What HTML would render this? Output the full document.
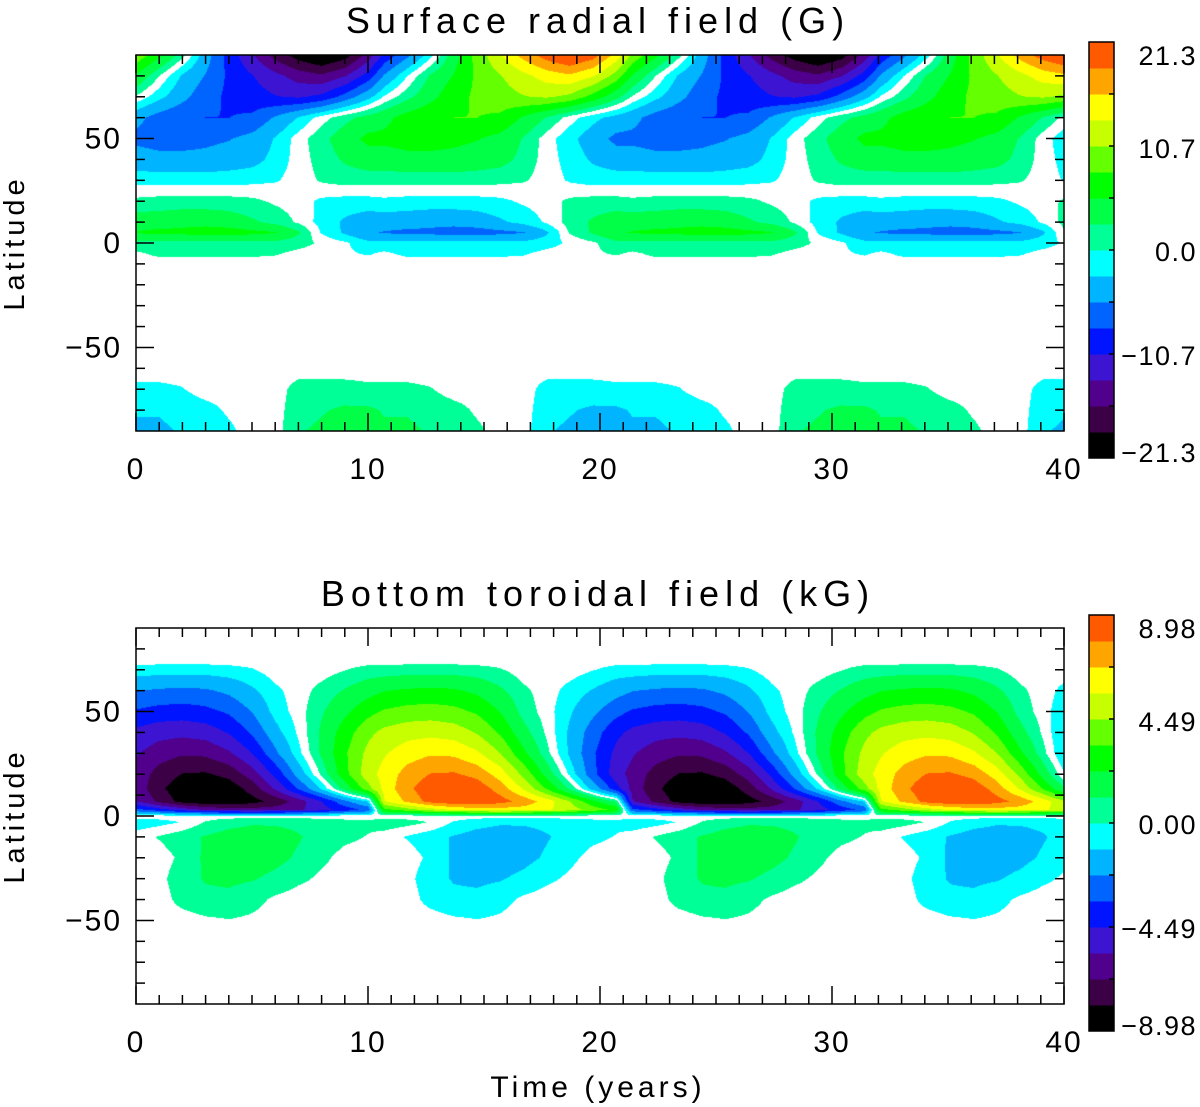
<!DOCTYPE html>
<html><head><meta charset="utf-8"><style>
body{margin:0;background:#fff;width:1200px;height:1107px;position:relative;overflow:hidden;font-family:"Liberation Sans",sans-serif}
canvas{position:absolute}
svg{position:absolute;left:0;top:0}
text{font-family:"Liberation Sans",sans-serif;fill:#000}
</style></head><body>
<canvas id="c1" width="928" height="376" style="left:136px;top:55px"></canvas>
<canvas id="c2" width="928" height="376" style="left:136px;top:628px"></canvas>
<svg id="ov" width="1200" height="1107"></svg>
<script>
// ---- data ----
const palette = ['#000000','#3c0046','#50008c','#3c14d2','#0014ff','#0064ff','#00b4ff','#00ffff','#00ff96','#00ff46','#00ff00','#64ff00','#c8ff00','#ffff00','#ffa500','#ff5a00'];
const cycleTimes = [0,1,2,3,4,5,6,7,8,9,10];
const topHalfPeriod = 10.7;
const topMax = 21.3;
const topLats = [90,80,70,60,50,40,30,25,20,10,5,0,-5,-10,-60,-70,-80,-90];
const topValues = [
 [10,6,1.5,-4,-9,-13,-17,-20,-22,-20,-15],
 [5,0.8,-3,-5.5,-8.5,-10.5,-12.5,-14.5,-15.5,-13.5,-9.5],
 [0.6,-2,-4.5,-7,-8.5,-9.5,-10.5,-11,-10,-7,-3.5],
 [-4.5,-6.5,-7.5,-8,-8,-7.5,-5,-2.5,0,2,3.5],
 [-6,-6.5,-6.5,-6,-5.5,-4.5,-2.5,0,2,4,6],
 [-4,-4.5,-4.5,-4.5,-4,-3.5,-2,0,1.5,3,4],
 [-1.5,-1.5,-1.5,-1.5,-1.5,-1.3,-1,0,1,1.5,1.5],
 [0,0,0,0,0,0,0,0,0,0,0],
 [1.2,1.5,1.5,1.5,1.5,1.2,0.5,0,-1.2,-1.5,-1.5],
 [4,4,4.5,4.5,4,3,2,0.5,-1.5,-3,-4],
 [5.5,6,6,6.5,6.5,6,5.5,3,-1,-3,-5],
 [2,2,2,2,2,2,2,1.5,0.5,-0.5,-2],
 [0.5,1.2,1.2,1.2,1.2,1.2,1,0.3,0,-0.5,-1],
 [0,0,0,0,0,0,0,0,0,0,0],
 [0,0,0,0,0,0,0,0,0,0,0],
 [-1.2,-1.2,-0.9,0,0,0,0,1.5,1.5,1.5,1.2],
 [-2.5,-2.5,-2,-1.5,-0.5,0,0,2,2.5,3,3],
 [-3,-3,-2.5,-2,-1.2,0,0,2.5,3,3.5,3.5]
];
const botHalfPeriod = 10.7;
const botMax = 8.98;
const botLats = [90,75,70,60,50,40,30,20,13,7,3,0,-3,-10,-20,-30,-40,-50,-60,-90];
const botValues = [
 [0,0,0,0,0,0,0,0,0,0,0],
 [0,0,0,0,0,0,0,0,0,0,0],
 [-0.6,-0.7,-0.7,-0.7,-0.6,-0.4,0,0,0,0.3,0.6],
 [-2.2,-2.4,-2.5,-2.4,-2.0,-1.3,-0.5,0,0.6,1.2,1.8],
 [-3.5,-3.8,-3.9,-3.7,-3.2,-2.2,-0.8,0,1.0,2.0,3.0],
 [-4.8,-5.2,-5.3,-5.1,-4.4,-3.2,-1.5,-0.2,1.3,2.8,4.2],
 [-5.5,-6.2,-6.6,-6.5,-5.8,-4.5,-2.5,-0.6,1.3,3.2,4.8],
 [-6,-7.2,-7.9,-8.0,-7.5,-6.2,-4.2,-1.8,0.5,3.0,5.2],
 [-6,-7.6,-8.6,-9.0,-8.6,-7.4,-5.5,-3.3,-1.0,1.5,4],
 [-5.5,-7,-8.3,-8.8,-8.8,-8.3,-7.5,-6.2,-4.5,-2.5,-1],
 [-3,-4,-5,-5.8,-6.2,-6.3,-6.2,-5.8,-5,-4,-3],
 [0,0,0,0,0,0,0,0,0,0,0],
 [-0.8,-0.6,-0.3,0.4,0.8,1.0,1.0,0.9,0.8,0.6,0.5],
 [0,0.4,0.8,1.2,1.5,1.6,1.5,1.2,0.8,0.5,0.3],
 [0,0,0.5,1.3,1.6,1.6,1.4,1.0,0.5,0.1,0],
 [0,0.1,0.8,1.2,1.3,1.2,0.9,0.5,0.2,0,0],
 [0,0,0.6,0.9,0.9,0.6,0.2,0,0,0,0],
 [0,0,0,0.2,0.3,0.2,0,0,0,0,0],
 [0,0,0,0,0,0,0,0,0,0,0],
 [0,0,0,0,0,0,0,0,0,0,0]
];
const xTicks = [0,10,20,30,40];
const yTicks = [-50,0,50];
const topBarLabels = ['21.3','10.7','0.0','\u221210.7','\u221221.3'];
const botBarLabels = ['8.98','4.49','0.00','\u22124.49','\u22128.98'];

// ---- rendering ----
function hexRGB(h){return [parseInt(h.substr(1,2),16),parseInt(h.substr(3,2),16),parseInt(h.substr(5,2),16)];}
const palRGB = palette.map(hexRGB);
function sample(lats, vals, P, t, lat){
  const k = Math.floor(t/P); let tau = t - k*P; const s = (k%2)?-1:1;
  let i = 0; while(i < lats.length-2 && lat < lats[i+1]) i++;
  const fl = (lats[i]-lat)/(lats[i]-lats[i+1]);
  function col(r){
    const row = vals[r]; const n = cycleTimes.length;
    if(tau >= cycleTimes[n-1]){ const f=(tau-cycleTimes[n-1])/(P-cycleTimes[n-1]); return row[n-1]*(1-f) + (-row[0])*f; }
    let j=0; while(j<n-2 && tau>cycleTimes[j+1]) j++;
    const f=(tau-cycleTimes[j])/(cycleTimes[j+1]-cycleTimes[j]); return row[j]*(1-f)+row[j+1]*f;
  }
  return s*(col(i)*(1-fl)+col(i+1)*fl);
}
function draw(id, lats, vals, P, vmax){
  const cv=document.getElementById(id), ctx=cv.getContext('2d');
  const W=cv.width,H=cv.height, img=ctx.createImageData(W,H), step=2*vmax/16;
  for(let y=0;y<H;y++){ const lat=90-180*(y+0.5)/H;
    for(let x=0;x<W;x++){ const t=40*(x+0.5)/W; const v=sample(lats,vals,P,t,lat);
      let c=[255,255,255];
      if(Math.abs(v)>=0.3*step){ let k=Math.floor((v+vmax)/step); k=Math.max(0,Math.min(15,k)); c=palRGB[k]; }
      const o=(y*W+x)*4; img.data[o]=c[0];img.data[o+1]=c[1];img.data[o+2]=c[2];img.data[o+3]=255; } }
  ctx.putImageData(img,0,0);
}
draw('c1',topLats,topValues,topHalfPeriod,topMax);
draw('c2',botLats,botValues,botHalfPeriod,botMax);

const NS='http://www.w3.org/2000/svg', ov=document.getElementById('ov');
function el(tag,attrs,parent){const e=document.createElementNS(NS,tag);for(const k in attrs)e.setAttribute(k,attrs[k]);(parent||ov).appendChild(e);return e;}
function panel(top, title, barLabels, name, showXTitle){
  const L=136,R=1064,B=top+376;
  const g=el('g',{});
  
  
  el('rect',{x:L,y:top,width:R-L,height:376,fill:'none',stroke:'#000','stroke-width':1.5},g);
  const xs=t=>L+(R-L)*t/40, ys=lat=>top+376*(90-lat)/180;
  for(let t=0;t<=40;t++){ const len=(t%10===0)?18:9;
    el('line',{x1:xs(t),x2:xs(t),y1:B,y2:B-len,stroke:'#000','stroke-width':1.5},g);
    el('line',{x1:xs(t),x2:xs(t),y1:top,y2:top+len,stroke:'#000','stroke-width':1.5},g); }
  for(let lat=-80;lat<=80;lat+=10){ const len=(lat%50===0)?18:9;
    el('line',{x1:L,x2:L+len,y1:ys(lat),y2:ys(lat),stroke:'#000','stroke-width':1.5},g);
    el('line',{x1:R,x2:R-len,y1:ys(lat),y2:ys(lat),stroke:'#000','stroke-width':1.5},g); }
  xTicks.forEach(t=>{ const tx=el('text',{x:xs(t),y:B+48,'font-size':30,'text-anchor':'middle','letter-spacing':2},g); tx.textContent=t;
      });
  yTicks.forEach(v=>{ const tx=el('text',{x:122,y:ys(v)+10,'font-size':30,'text-anchor':'end','letter-spacing':2},g); tx.textContent=(v<0?'\u2212':'')+Math.abs(v);
      });
  const yl=el('text',{x:0,y:0,'font-size':29,'text-anchor':'middle','letter-spacing':4,transform:`translate(24,${ys(0)}) rotate(-90)`},g); yl.textContent='Latitude';
   
  const tt=el('text',{x:598,y:top-22,'font-size':36,'text-anchor':'middle','letter-spacing':6},g); tt.textContent=title;
   
  // colorbar
  const cb=el('g',{});  
  const bt=top-13, bh=416, bx=1089, bw=25;
  palette.forEach((c,k)=>{ el('rect',{x:bx,y:bt+bh-(k+1)*bh/16,width:bw,height:bh/16+0.5,fill:c},cb); });
  el('rect',{x:bx,y:bt,width:bw,height:bh,fill:'none',stroke:'#000','stroke-width':1.5},cb);
  for(let k=1;k<8;k++){ const y=bt+k*bh/8; el('line',{x1:bx+bw,x2:bx+bw-5,y1:y,y2:y,stroke:'#000','stroke-width':1.5},cb); }
  const labY=[bt+13,bt+106,bt+209,bt+313,bt+410];
  barLabels.forEach((s,i)=>{ const tx=el('text',{x:1197,y:labY[i]+10,'font-size':27,'text-anchor':'end','letter-spacing':1.5},cb); tx.textContent=s;
      });
  if(showXTitle){ const xt=el('text',{x:598,y:B+93,'font-size':30,'text-anchor':'middle','letter-spacing':4},g); xt.textContent='Time (years)';
      }
}
panel(55,'Surface radial field (G)',topBarLabels,'top-panel',false);
panel(628,'Bottom toroidal field (kG)',botBarLabels,'bottom-panel',true);
</script>
</body></html>
